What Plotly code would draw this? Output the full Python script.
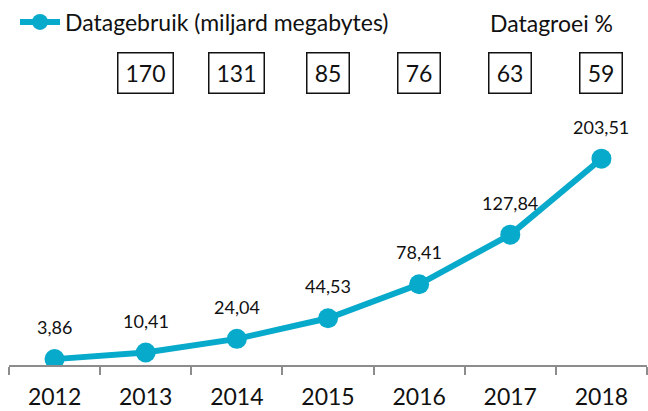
import plotly.graph_objects as go

years = ["2012", "2013", "2014", "2015", "2016", "2017", "2018"]
usage = [3.86, 10.41, 24.04, 44.53, 78.41, 127.84, 203.51]
growth_years = ["2013", "2014", "2015", "2016", "2017", "2018"]
growth = [170, 131, 85, 76, 63, 59]

FONT = "Lato"
BLUE = "#07AACA"
W, H = 648, 411
T, B, L, R = 100, 46, 9, 1
plot_w = W - L - R
plot_h = H - T - B

fig = go.Figure()
fig.add_trace(go.Scatter(
    x=years, y=usage, mode="lines+markers",
    name="Datagebruik (miljard megabytes)",
    line=dict(color=BLUE, width=6),
    marker=dict(color=BLUE, size=20),
))

def fmt(v):
    return f"{v:.2f}".replace(".", ",")

# category index positions (annotation x on a category axis is an index)
for x, v in zip(years, usage):
    fig.add_annotation(x=years.index(x), y=v, text=fmt(v), showarrow=False,
                       yanchor="middle", yshift=32,
                       font=dict(family=FONT, size=18, color="#111"))

box_y = 1 + (T - 66) / plot_h
for x, g in zip(growth_years, growth):
    fig.add_annotation(x=years.index(x), y=box_y, yref="paper", text=str(g),
                       showarrow=False, yanchor="middle",
                       bordercolor="#111", borderwidth=1.5,
                       borderpad=5, width=31 if g < 100 else 44, height=29,
                       font=dict(family=FONT, size=23, color="#111"))

fig.add_annotation(x=(488 - L) / plot_w, xref="paper", xanchor="left",
                   y=1 + (T - 15) / plot_h, yref="paper", yanchor="middle",
                   text="Datagroei %", showarrow=False,
                   font=dict(family=FONT, size=23, color="#111"))

fig.update_layout(
    template="none",
    width=W, height=H,
    margin=dict(t=T, b=B, l=L, r=R),
    paper_bgcolor="white", plot_bgcolor="white",
    showlegend=True,
    legend=dict(x=(15 - L) / plot_w, xanchor="left",
                y=1 + (T + 8) / plot_h, yanchor="top",
                font=dict(family=FONT, size=23, color="#111"),
                bgcolor="rgba(0,0,0,0)", borderwidth=0, itemwidth=40),
    xaxis=dict(type="category", range=[-0.5, 6.5], showgrid=False,
               automargin=False,
               showline=True, linecolor="#8C8C8C", linewidth=1.5,
               ticks="outside", tickson="boundaries", ticklen=8,
               tickcolor="#8C8C8C", tickwidth=1.5, tickangle=0,
               ticklabelstandoff=11,
               tickfont=dict(family=FONT, size=23, color="#111")),
    yaxis=dict(range=[-2, 256], visible=False, automargin=False),
)

fig.write_html("out.html", config={"displayModeBar": False},
               post_script="document.body.style.margin='0';document.body.style.overflow='hidden';")
